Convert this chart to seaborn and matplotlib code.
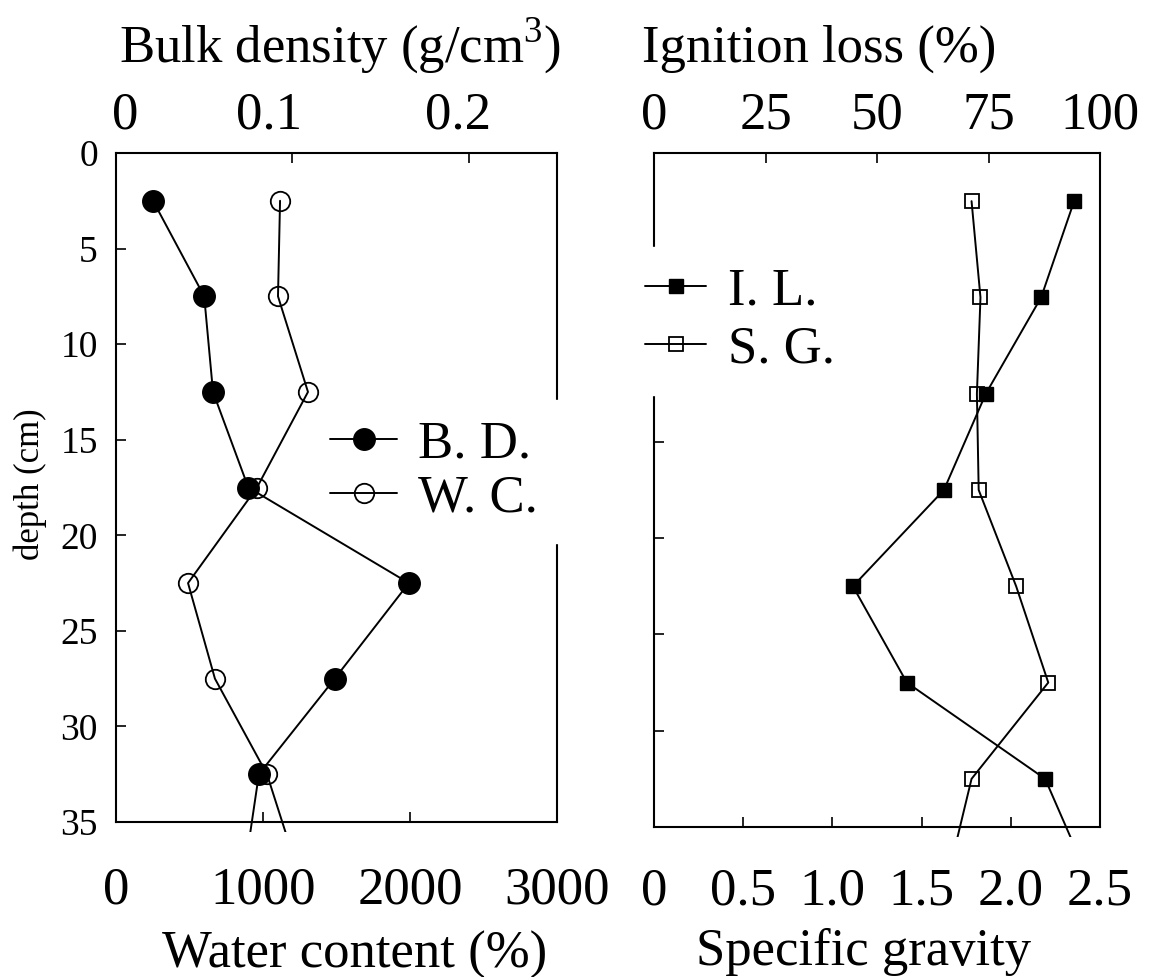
import numpy as np
import pandas as pd
import matplotlib
matplotlib.use('Agg')
import matplotlib.pyplot as plt
import matplotlib.transforms as mtransforms
from matplotlib.patches import Rectangle
import seaborn as sns

## data (depth in cm, last point lies just below the frame)
depth = [2.5, 7.5, 12.5, 17.5, 22.5, 27.5, 32.5, 37.5]
bulk_density = [0.021, 0.050, 0.055, 0.075, 0.166, 0.124, 0.081, 0.073]
water_content = [1116, 1102, 1306, 959, 490, 673, 1027, 1235]
ignition_loss = [94.2, 86.8, 74.4, 65.0, 44.6, 56.7, 87.7, 97.1]
specific_gravity = [1.78, 1.83, 1.81, 1.82, 2.03, 2.21, 1.78, 1.65]

depth_ticks = [0, 5, 10, 15, 20, 25, 30, 35]
wc_ticks = [0, 1000, 2000, 3000]
wc_labels = ['0', '1000', '2000', '3000']
bd_ticks = [0, 0.1, 0.2]
bd_labels = ['0', '0.1', '0.2']
il_ticks = [0, 25, 50, 75, 100]
il_labels = ['0', '25', '50', '75', '100']
sg_ticks = [0, 0.5, 1.0, 1.5, 2.0, 2.5]
sg_labels = ['0', '0.5', '1.0', '1.5', '2.0', '2.5']

sns.set_style('ticks', {'axes.edgecolor': 'black', 'text.color': 'black',
                        'xtick.color': 'black', 'ytick.color': 'black',
                        'axes.labelcolor': 'black'})
plt.rcParams['font.family'] = ['Liberation Serif', 'DejaVu Serif']
plt.rcParams['mathtext.fontset'] = 'custom'
plt.rcParams['mathtext.rm'] = 'Liberation Serif'
plt.rcParams['axes.linewidth'] = 1.5

BIG = 38
fig = plt.figure(figsize=(11.57, 9.77), dpi=100)
ax_l = fig.add_axes([116 / 1157, 155 / 977, 441 / 1157, 669 / 977])
ax_r = fig.add_axes([654 / 1157, 150 / 977, 446 / 1157, 674 / 977])
ax_l2 = ax_l.twiny()
ax_r2 = ax_r.twiny()

line_kw = dict(color='black', lw=1.4, legend=False, errorbar=None, orient='y', zorder=3)


def profile(ax, values, **kw):
    df = pd.DataFrame({'value': values, 'depth': depth})
    sns.lineplot(data=df, x='value', y='depth', ax=ax, **line_kw, **kw)
    line = ax.lines[-1]
    # let the lines run a little past the bottom of the frame
    clip = Rectangle((0, -0.015), 1, 1.015, transform=ax.transAxes)
    line.set_clip_path(clip)
    return line


## left panel: water content (bottom) and bulk density (top)
wc_line = profile(ax_l, water_content, marker='o', ms=14, mfc='none', mec='black', mew=1.3)
bd_line = profile(ax_l2, bulk_density, marker='o', ms=15.5, mfc='black', mec='black', mew=1)

## right panel: specific gravity (bottom) and ignition loss (top)
sg_line = profile(ax_r, specific_gravity, marker='s', ms=10, mfc='none', mec='black', mew=1.3)
il_line = profile(ax_r2, ignition_loss, marker='s', ms=10.5, mfc='black', mec='black', mew=1)

for ax in [ax_l, ax_r]:
    ax.set_ylim(35, 0)
    ax.set_yticks(depth_ticks)
    ax.tick_params(axis='both', direction='in', length=7, width=1.2)
for ax in [ax_l2, ax_r2]:
    for sp in ax.spines.values():
        sp.set_visible(False)
    ax.tick_params(axis='x', direction='in', length=7, width=1.2, labelsize=BIG, pad=10)

ax_l.set_xlim(0, 3000)
ax_l.set_xticks(wc_ticks, wc_labels)
ax_l.tick_params(axis='x', labelsize=BIG, pad=32)
ax_l.tick_params(axis='y', labelsize=27, pad=13)
ax_l2.set_xlim(0, 0.25)
ax_l2.set_xticks(bd_ticks, bd_labels)
# the top labels of the left panel sit a bit off their ticks
for tick, dx in zip(ax_l2.xaxis.get_major_ticks(), [9, -23, -11]):
    off = mtransforms.ScaledTranslation(dx / 100, 0, fig.dpi_scale_trans)
    tick.label2.set_transform(tick.label2.get_transform() + off)

ax_r.set_xlim(0, 2.5)
ax_r.set_xticks(sg_ticks, sg_labels)
ax_r.tick_params(axis='x', labelsize=BIG, pad=29)
ax_r.tick_params(axis='y', labelleft=False)
ax_r2.set_xlim(0, 100)
ax_r2.set_xticks(il_ticks, il_labels)

ax_l.set_xlabel('Water content (%)', fontsize=BIG, va='baseline')
ax_l.xaxis.set_label_coords(0.542, -0.218)
ax_l2.set_xlabel(r'Bulk density (g/cm$^{3}$)', fontsize=BIG, va='baseline')
ax_l2.xaxis.set_label_coords(0.508, 1.136)
ax_r.set_xlabel('Specific gravity', fontsize=BIG, va='baseline')
ax_r.xaxis.set_label_coords(0.469, -0.205)
ax_r2.set_xlabel('Ignition loss (%)', fontsize=BIG, va='baseline')
ax_r2.xaxis.set_label_coords(0.37, 1.135)
ax_l.set_ylabel('depth (cm)', fontsize=25, va='center')
ax_l.yaxis.set_label_coords(-0.195, 0.505)
ax_r.set_ylabel('')

leg_kw = dict(loc='center left', borderaxespad=0, fancybox=False, facecolor='white',
              edgecolor='white', framealpha=1, fontsize=BIG, handletextpad=0.4,
              borderpad=0.4)
leg_l = ax_l.legend([bd_line, wc_line], ['B. D.', 'W. C.'], bbox_to_anchor=(0.438, 0.524),
                    handlelength=1.27, labelspacing=0.1, **leg_kw)
leg_l.set_zorder(2.8)
leg_r = ax_r.legend([il_line, sg_line], ['I. L.', 'S. G.'], bbox_to_anchor=(-0.067, 0.751),
                    handlelength=1.16, labelspacing=0.19, **leg_kw)
leg_r.set_zorder(2.8)

plt.savefig('out.png', dpi=100)
